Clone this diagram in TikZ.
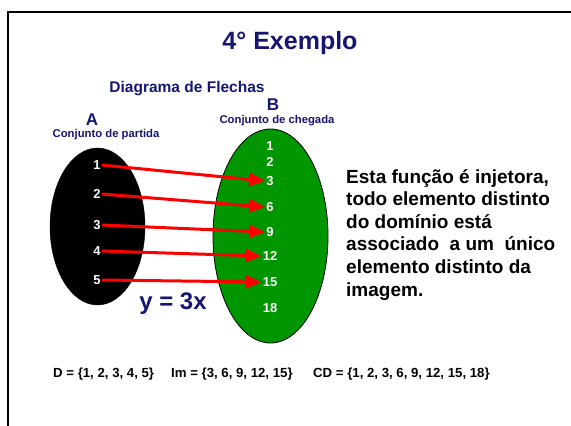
\documentclass[tikz,border=0pt]{standalone}
\usepackage{fontspec}
\setmainfont{Liberation Sans}
\usetikzlibrary{arrows.meta}
\definecolor{navy}{RGB}{22,22,112}
\definecolor{setgreen}{RGB}{0,150,0}
\tikzstyle{frame}=[line width = 2.5pt]
\tikzstyle{heading}=[navy, font=\bfseries, inner sep=0pt]
\tikzstyle{element}=[white, font=\bfseries\fontsize{13}{13}\selectfont, inner sep=1pt]
\tikzstyle{mapsto}=[red, line width = 3pt, -{Triangle[length=16pt, width=13pt]}]
\tikzstyle{setinfo}=[font=\bfseries\fontsize{13.2}{13.2}\selectfont, inner sep=0pt, anchor=west]

\begin{document}
\begin{tikzpicture}[x=1pt, y=-1pt]
				\useasboundingbox (0,0) rectangle (571,426);
				\draw[frame] (8,430) -- (8,12) -- (575,12);

				\node[heading, font=\bfseries\fontsize{25}{25}\selectfont] (title) at (290,43) {4° Exemplo};
				\node[heading, font=\bfseries\fontsize{15.5}{15.5}\selectfont] (diagram) at (187,89) {Diagrama de Flechas};
				\node[heading, font=\bfseries\fontsize{17}{17}\selectfont] (nameA) at (92,120) {A};
				\node[heading, font=\bfseries\fontsize{17}{17}\selectfont] (nameB) at (273,105) {B};
				\node[heading, font=\bfseries\fontsize{11.3}{11.3}\selectfont] (startset) at (106,135) {Conjunto de partida};
				\node[heading, font=\bfseries\fontsize{11.3}{11.3}\selectfont] (endset) at (277,121) {Conjunto de chegada};

				\draw[fill=black] (97.5,226.5) ellipse [x radius=47.5, y radius=78.5];
				\draw[fill=setgreen, thick] (270.5,236) ellipse [x radius=57.5, y radius=107];

				\node[element] (a1) at (97,165) {1};
				\node[element] (a2) at (97,194) {2};
				\node[element] (a3) at (97,225) {3};
				\node[element] (a4) at (97,251) {4};
				\node[element] (a5) at (97,280) {5};

				\node[element] (b1) at (270,146) {1};
				\node[element] (b2) at (270,162) {2};
				\node[element] (b3) at (270,181) {3};
				\node[element] (b6) at (270,207) {6};
				\node[element] (b9) at (270,232) {9};
				\node[element] (b12) at (270,256) {12};
				\node[element] (b15) at (270,282) {15};
				\node[element] (b18) at (270,308) {18};

				\draw[mapsto] (a1.east) -- (b3.west);
				\draw[mapsto] (a2.east) -- (b6.west);
				\draw[mapsto] (a3.east) -- (b9.west);
				\draw[mapsto] (a4.east) -- (b12.west);
				\draw[mapsto] (a5.east) -- (b15.west);

				\node[heading, font=\bfseries\fontsize{24}{24}\selectfont] (rule) at (173,304) {y = 3x};

				\node[font=\bfseries\fontsize{19}{22.6}\selectfont, align=left, anchor=north west, inner sep=0pt] (remark) at (346,169)
					{Esta função é injetora,\\todo elemento distinto\\do domínio está\\associado\ \ a um\ \ único\\elemento distinto da\\imagem.};

				\node[setinfo] (domain) at (53,374) {D = \{1, 2, 3, 4, 5\}};
				\node[setinfo] (image) at (171,374) {Im = \{3, 6, 9, 12, 15\}};
				\node[setinfo] (codomain) at (313,374) {CD = \{1, 2, 3, 6, 9, 12, 15, 18\}};
			\end{tikzpicture}
\end{document}
